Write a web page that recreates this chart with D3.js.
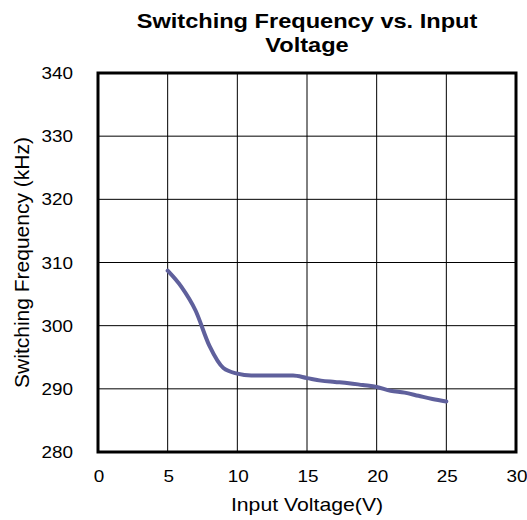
<!DOCTYPE html>
<html><head><meta charset="utf-8">
<script src="https://cdn.jsdelivr.net/npm/d3@7"></script>
<style>body{margin:0;background:#fff}svg{display:block}</style>
</head><body>
<script>
const voltages = [5,6,7,8,9,10,11,12,13,14,15,16,17,18,19,20,21,22,23,24,25];
const frequencies = [308.7,306.1,302.4,296.8,293.3,292.4,292.1,292.1,292.1,292.1,291.7,291.3,291.1,290.9,290.6,290.3,289.7,289.4,288.9,288.4,288.0];
const xTicks = [0,5,10,15,20,25,30];
const yTicks = [280,290,300,310,320,330,340];
const title = ["Switching Frequency vs. Input", "Voltage"];
const xLabel = "Input Voltage(V)";
const yLabel = "Switching Frequency (kHz)";

const W = 527, H = 520;
const SX = 1.18; // horizontal stretch of the lettering
const m = {left: 98, right: 516, top: 73, bottom: 452};
const svg = d3.select("body").append("svg").attr("width", W).attr("height", H)
  .style("font-family", "'Liberation Sans', Arial, sans-serif");

const x = d3.scaleLinear().domain([0,30]).range([m.left, m.right]);
const y = d3.scaleLinear().domain([280,340]).range([m.bottom, m.top]);

// grid
const g = svg.append("g");
g.selectAll(".vg").data(xTicks.slice(1,-1)).join("line")
  .attr("x1", d => x(d)).attr("x2", d => x(d)).attr("y1", m.top).attr("y2", m.bottom)
  .attr("stroke", "#000").attr("stroke-width", 1);
g.selectAll(".hg").data(yTicks.slice(1,-1)).join("line")
  .attr("y1", d => y(d)).attr("y2", d => y(d)).attr("x1", m.left).attr("x2", m.right)
  .attr("stroke", "#000").attr("stroke-width", 1);

// line
const line = d3.line().x((d,i) => x(voltages[i])).y(d => y(d)).curve(d3.curveMonotoneX);
svg.append("path").datum(frequencies).attr("d", line)
  .attr("fill", "none").attr("stroke", "#5f609c").attr("stroke-width", 4)
  .attr("stroke-linecap", "round").attr("stroke-linejoin", "round");

// frame
svg.append("rect").attr("x", m.left).attr("y", m.top)
  .attr("width", m.right - m.left).attr("height", m.bottom - m.top)
  .attr("fill", "none").attr("stroke", "#000").attr("stroke-width", 3);

function stretched(sel, px, py) {
  return sel.attr("transform", (d,i) => `translate(${px(d,i)},${py(d,i)}) scale(${SX},1)`);
}

// tick labels
stretched(svg.selectAll(".xt").data(xTicks).join("text"), d => x(d) + 1, () => 482)
  .attr("text-anchor", "middle").attr("font-size", 16).attr("fill", "#000").text(d => d);
stretched(svg.selectAll(".yt").data(yTicks).join("text"), () => 73, d => y(d) + 6)
  .attr("text-anchor", "end").attr("font-size", 16).attr("fill", "#000").text(d => d);

// titles
stretched(svg.selectAll(".title").data(title).join("text"), () => (m.left + m.right)/2, (d,i) => 28 + i*24)
  .attr("text-anchor", "middle").attr("font-size", 20).attr("font-weight", "bold")
  .attr("fill", "#000").text(d => d);
stretched(svg.selectAll(".xl").data([xLabel]).join("text"), () => (m.left + m.right)/2, () => 511)
  .attr("text-anchor", "middle").attr("font-size", 18).attr("fill", "#000").text(d => d);
svg.append("text").attr("transform", `translate(29,${(m.top+m.bottom)/2}) rotate(-90)`)
  .attr("text-anchor", "middle").attr("font-size", 21).attr("fill", "#000").text(yLabel);
</script>
</body></html>
